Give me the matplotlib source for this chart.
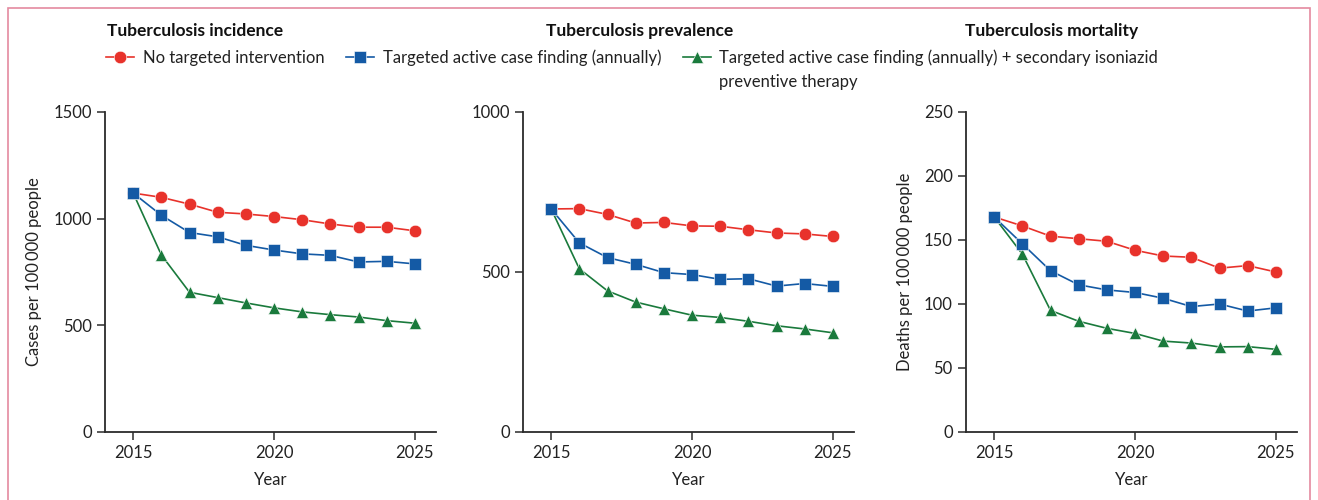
import matplotlib
matplotlib.use("Agg")
import matplotlib.pyplot as plt
from matplotlib.patches import Rectangle

plt.rcParams['font.family'] = ['Lato', 'DejaVu Sans']

years = list(range(2015, 2026))

# incidence, cases per 100 000
inc_none = [1120, 1100, 1068, 1030, 1022, 1010, 995, 975, 960, 960, 943]
inc_acf = [1120, 1016, 935, 915, 875, 853, 835, 828, 797, 800, 788]
inc_acf_ipt = [1120, 830, 655, 630, 605, 582, 563, 550, 539, 522, 510]

# prevalence, cases per 100 000
prev_none = [697, 698, 680, 653, 655, 644, 643, 632, 622, 619, 611]
prev_acf = [697, 591, 545, 524, 498, 492, 477, 479, 456, 464, 455]
prev_acf_ipt = [697, 510, 441, 406, 385, 365, 358, 346, 332, 322, 310]

# mortality, deaths per 100 000
mort_none = [168, 161, 153, 151, 149, 142, 137.5, 136.5, 128, 130, 125]
mort_acf = [168, 147, 126, 115, 111, 109, 104.5, 98, 100, 94.5, 97]
mort_acf_ipt = [168, 139, 95, 86.5, 81, 77, 71, 69.5, 66.5, 66.7, 64.6]

labels = ["No targeted intervention",
          "Targeted active case finding (annually)",
          "Targeted active case finding (annually) + secondary isoniazid\npreventive therapy"]
colors = ["#e8322b", "#145aa5", "#1a7a3c"]
markers = ["o", "s", "^"]
msizes = [9, 8, 8.5]
zorders = [2, 3, 2.5]

panels = [
    ("Tuberculosis incidence", "Cases per 100\u2009000 people",
     [inc_none, inc_acf, inc_acf_ipt], 1500, [0, 500, 1000, 1500]),
    ("Tuberculosis prevalence", None,
     [prev_none, prev_acf, prev_acf_ipt], 1000, [0, 500, 1000]),
    ("Tuberculosis mortality", "Deaths per 100\u2009000 people",
     [mort_none, mort_acf, mort_acf_ipt], 250, [0, 50, 100, 150, 200, 250]),
]

W, H = 1318, 500
fig = plt.figure(figsize=(W / 100, H / 100), dpi=100)

lefts = [105, 523, 966]
title_x = [107, 546, 965]
ax_w = 331
handles = []
for k, (title, ylab, series, ymax, yt) in enumerate(panels):
    ax = fig.add_axes([lefts[k] / W, (H - 432) / H, ax_w / W, 320 / H])
    for s, c, m, ms, z, lab in zip(series, colors, markers, msizes, zorders, labels):
        h, = ax.plot(years, s, color=c, marker=m, markersize=ms, lw=1.2, zorder=z,
                     markeredgecolor="white", markeredgewidth=0.4,
                     label=lab.split("\n")[0])
        if k == 0:
            handles.append(h)
    ax.set_xlim(2014, 2025.75)
    ax.set_ylim(0, ymax)
    ax.set_xticks([2015, 2020, 2025])
    ax.set_yticks(yt)
    for sp in ["top", "right"]:
        ax.spines[sp].set_visible(False)
    for sp in ["left", "bottom"]:
        ax.spines[sp].set_color("#2b2b2b")
        ax.spines[sp].set_linewidth(1.3)
    ax.tick_params(colors="#2b2b2b", labelcolor="#222222", labelsize=12,
                   length=6, width=1.1, direction="out")
    ax.set_xlabel("Year", fontsize=12, color="#222222", labelpad=8)
    if ylab:
        ax.set_ylabel(ylab, fontsize=12, color="#222222", labelpad=8)
    ax.patch.set_alpha(0)
    fig.text(title_x[k] / W, (H - 31) / H, title, fontsize=12.5,
             fontweight="bold", color="#111111", va="center", ha="left")

leg = fig.legend(handles=handles, loc="upper left",
                 bbox_to_anchor=(106 / W, (H - 49) / H),
                 ncol=3, frameon=False, fontsize=12, handlelength=1.7,
                 handletextpad=0.5, columnspacing=1.3, borderaxespad=0,
                 borderpad=0, labelcolor="#222222")

# second line of the third legend entry
fig.canvas.draw()
bb = leg.get_texts()[2].get_window_extent()
fig.text(bb.x0 / W, (bb.y0 - 24) / H, labels[2].split("\n")[1], fontsize=12,
         color="#222222", ha="left", va="bottom")

fig.patches.append(Rectangle((8 / W, -0.02), 1302 / W, (H - 8) / H + 0.02,
                             transform=fig.transFigure, fill=False,
                             edgecolor="#e48aa0", linewidth=1.2))

fig.savefig("out.png", dpi=100)
